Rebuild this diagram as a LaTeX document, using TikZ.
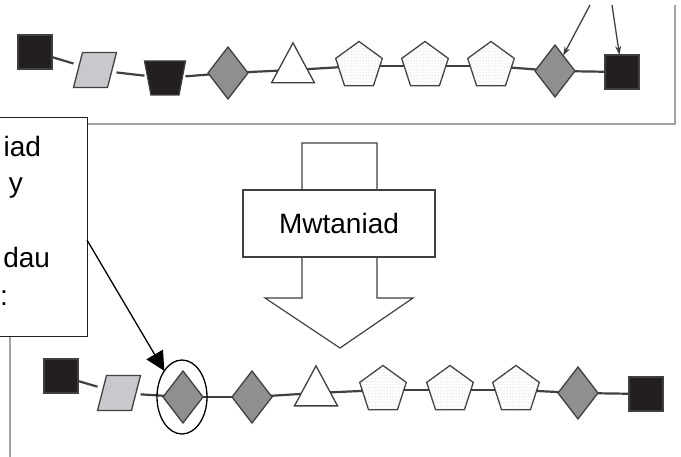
\documentclass[tikz,border=0pt]{standalone}
\usepackage{fontspec}
\setmainfont{Liberation Sans}
\usetikzlibrary{shapes.geometric,arrows.meta,patterns}

\definecolor{ink}{HTML}{231F20}
\definecolor{rim}{HTML}{404040}
\definecolor{pale}{HTML}{C9C9CD}
\definecolor{stone}{HTML}{8D8F90}
\definecolor{rule}{HTML}{A3A3A3}

\begin{document}
\begin{tikzpicture}[x=1pt,y=-1pt,
		every node/.style={inner sep=0pt,outer sep=0pt},
		residue/.style={draw=rim,line width=1.3pt},
		capsq/.style={residue,fill=ink,minimum size=34pt},
		lozenge/.style={residue,diamond,fill=stone,minimum width=40pt,minimum height=52pt},
		tilted/.style={minimum width=43pt,minimum height=35pt},
		cup/.style={minimum width=41pt,minimum height=34pt},
		peak/.style={residue,isosceles triangle,isosceles triangle apex angle=50,isosceles triangle stretches,shape border rotate=90,fill=white,minimum width=43pt,minimum height=40pt},
		penta/.style={residue,regular polygon,regular polygon sides=5,minimum size=49pt,fill=white,postaction={pattern=dots,pattern color=gray!55}},
		link/.style={draw=rim,line width=2.2pt},
		pointer/.style={draw=rim,line width=1.3pt,-{Stealth[length=9pt,width=6pt]}},
		words/.style={font=\fontsize{28}{32}\selectfont}]
		\clip (0,0) rectangle (681,457);
		
		% frame round the first chain
		\draw[rule,line width=1.2pt] (0,124) -- (675,124) -- (675,5);
		
		% first chain
		\node[capsq] (tCapA) at (35,52) {};
		\node[tilted] (tPar) at (95,70) {};
		\node[cup] (tTrap) at (165,78) {};
		\node[lozenge] (tDiaA) at (228,73) {};
		\node[peak] (tTri) at (293,70) {};
		\node[penta] (tPenA) at (359,66) {};
		\node[penta] (tPenB) at (425,66) {};
		\node[penta] (tPenC) at (491,66) {};
		\node[lozenge] (tDiaB) at (555,71) {};
		\node[capsq] (tCapB) at (622,72) {};
		
		% second chain
		\node[capsq] (bCapA) at (61,376) {};
		\node[tilted] (bPar) at (119,393) {};
		\node[lozenge] (bDiaA) at (183,397) {};
		\node[lozenge] (bDiaB) at (252,397) {};
		\node[peak] (bTri) at (316,393) {};
		\node[penta] (bPenA) at (383,390) {};
		\node[penta] (bPenB) at (450,390) {};
		\node[penta] (bPenC) at (516,390) {};
		\node[lozenge] (bDiaC) at (578,393) {};
		\node[capsq] (bCapB) at (646,394) {};
		
		% slanted boxes and the cup are outlined by hand
		\foreach \n in {tPar,bPar}
			\draw[residue,fill=pale] ([xshift=9pt]\n.north west) -- (\n.north east)
				-- ([xshift=-9pt]\n.south east) -- (\n.south west) -- cycle;
		\draw[residue,fill=ink] (tTrap.north west) -- (tTrap.north east)
			-- ([xshift=-6.5pt]tTrap.south east) -- ([xshift=6.5pt]tTrap.south west) -- cycle;
		
		\foreach \a/\b in {tCapA/tPar,tPar/tTrap,tTrap/tDiaA,tDiaA/tTri,tTri/tPenA,tPenA/tPenB,tPenB/tPenC,tPenC/tDiaB,tDiaB/tCapB,
			bCapA/bPar,bPar/bDiaA,bDiaA/bDiaB,bDiaB/bTri,bTri/bPenA,bPenA/bPenB,bPenB/bPenC,bPenC/bDiaC,bDiaC/bCapB}
			\draw[link] (\a) -- (\b);
		
		\coordinate (srcA) at (590,5);
		\coordinate (srcB) at (612,5);
		\draw[pointer] (srcA) -- (tDiaB);
		\draw[pointer] (srcB) -- (tCapB);
		
		% big arrow down, with its box
		\draw[rim,line width=1.2pt,fill=white] (302,143) -- (377,143) -- (377,298) -- (413,298)
			-- (340,348) -- (265,298) -- (302,298) -- cycle;
		\node[draw=rim,line width=1.2pt,fill=white,minimum width=192pt,minimum height=67pt,words] (mutbox) at (339,223.5) {Mwtaniad};
		
		% note on the left
		\node[draw=ink,line width=1pt,fill=white,minimum width=207pt,minimum height=219pt] (note) at (-16.5,227.5) {};
		\node[words,anchor=base east] (noteA) at (41,157) {iad};
		\node[words,anchor=base east] (noteB) at (23,193) {y};
		\node[words,anchor=base east] (noteC) at (50,268) {dau};
		\node[words,anchor=base east] (noteD) at (8,306) {:};
		\coordinate (drop) at (10,457);
		\draw[rule,line width=1.2pt] (note.south -| drop) -- (drop);
		
		\node[draw,ellipse,line width=1.3pt,minimum width=50pt,minimum height=74pt] (ring) at (182,397) {};
		\path (note.east) ++(0,12.5) coordinate (notearm);
		\draw[line width=1.3pt,-{Triangle[length=19pt,width=19pt]}] (notearm) -- (ring.north west);
\end{tikzpicture}
\end{document}
